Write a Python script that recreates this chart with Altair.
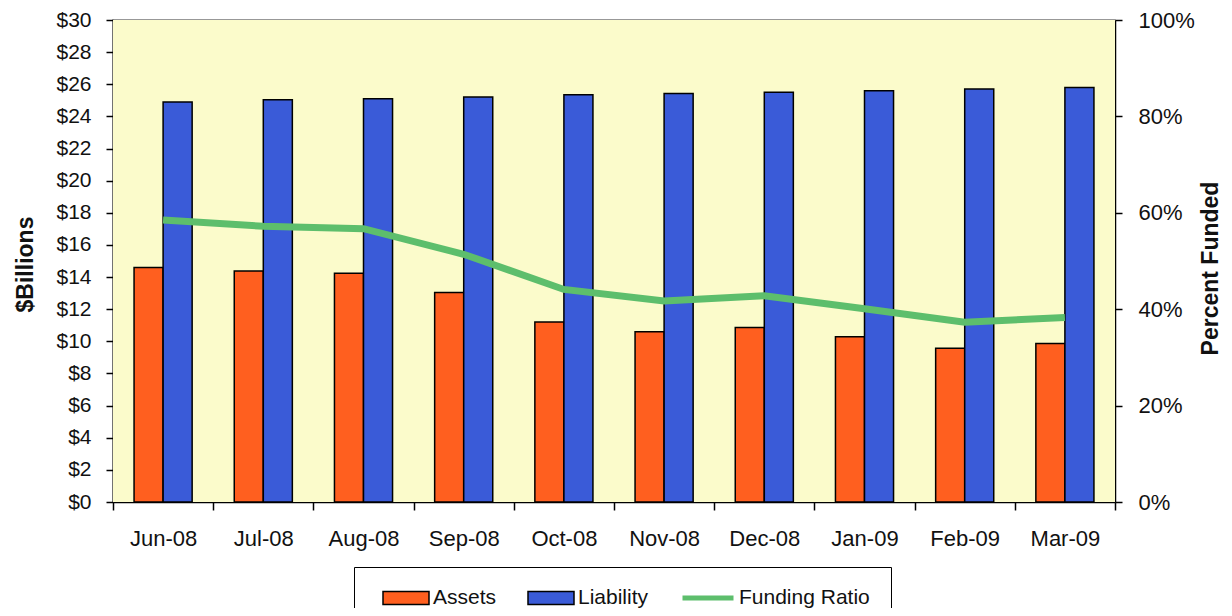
import altair as alt
import pandas as pd

months = ["Jun-08", "Jul-08", "Aug-08", "Sep-08", "Oct-08",
          "Nov-08", "Dec-08", "Jan-09", "Feb-09", "Mar-09"]
assets = [14.6, 14.37, 14.23, 13.04, 11.21, 10.6, 10.86, 10.29, 9.57, 9.86]
liability = [24.9, 25.03, 25.1, 25.2, 25.34, 25.43, 25.5, 25.6, 25.7, 25.8]
funding_ratio = [0.585, 0.572, 0.567, 0.514, 0.441, 0.417, 0.428, 0.401, 0.373, 0.383]

bar_series = ["Assets", "Liability"]
bar_colors = ["#FF5F1F", "#3A5BD8"]
line_series = ["Funding Ratio"]
line_color = "#5DBE6C"
y_ticks = list(range(0, 31, 2))
pct_ticks = [0, 0.2, 0.4, 0.6, 0.8, 1.0]

FONT = "Liberation Sans, Arial, sans-serif"

bars_df = pd.DataFrame(
    [{"month": m, "series": "Assets", "value": a} for m, a in zip(months, assets)]
    + [{"month": m, "series": "Liability", "value": l} for m, l in zip(months, liability)]
)
line_df = pd.DataFrame({"month": months, "ratio": funding_ratio,
                        "series": ["Funding Ratio"] * len(months)})
bg_df = pd.DataFrame({"bg": [1]})

background = alt.Chart(bg_df).mark_rect(color="#FBFBCB").encode(
    opacity=alt.value(1)
)

x_enc = alt.X(
    "month:N", sort=months,
    scale=alt.Scale(paddingInner=0, paddingOuter=0),
    axis=alt.Axis(title=None, labelAngle=0, tickBand="extent", tickSize=8,
                  labelPadding=18, labelFontSize=22, labelFont=FONT,
                  labelColor="#111", domainColor="black", tickColor="black",
                  domainWidth=1.5, tickWidth=1.5, grid=False),
)

rect_path = "M-1,-0.28H1V0.28H-1Z"

bars = alt.Chart(bars_df).mark_bar(stroke="black", strokeWidth=1.5).encode(
    x=x_enc,
    xOffset=alt.XOffset("series:N", sort=bar_series,
                        scale=alt.Scale(paddingInner=0, paddingOuter=0.725)),
    y=alt.Y("value:Q", scale=alt.Scale(domain=[0, 30], nice=False),
            axis=alt.Axis(values=y_ticks, labelExpr="'$' + datum.value",
                          tickSize=7, labelPadding=15, labelFontSize=21,
                          labelFont=FONT, labelColor="#111",
                          title="$Billions", titleFont=FONT, titleFontSize=23,
                          titleFontWeight="bold", titleColor="#111",
                          titleAngle=270, titleX=-88, titleY=244,
                          titleAlign="center", titleBaseline="middle",
                          grid=False, domainColor="black", tickColor="black",
                          domainWidth=1.5, tickWidth=1.5)),
    fill=alt.Fill(
        "series:N", scale=alt.Scale(domain=bar_series, range=bar_colors),
        title=None,
        legend=alt.Legend(orient="none", legendX=241, legendY=551,
                          direction="horizontal", columns=2,
                          symbolType=rect_path, symbolSize=2116,
                          symbolStrokeColor="black", symbolStrokeWidth=1.5,
                          symbolOpacity=1, symbolOffset=25, labelOffset=3,
                          labelFontSize=21, labelFont=FONT, labelColor="#111",
                          columnPadding=5, padding=3, labelLimit=600),
    ),
)

line = alt.Chart(line_df).mark_line(strokeWidth=7).encode(
    x=alt.X("month:N", sort=months),
    y=alt.Y("ratio:Q", scale=alt.Scale(domain=[0, 1], nice=False),
            axis=alt.Axis(orient="right", values=pct_ticks, format=".0%",
                          tickSize=7, labelPadding=16, labelFontSize=22,
                          labelFont=FONT, labelColor="#111",
                          title="Percent Funded", titleFont=FONT,
                          titleFontSize=23, titleFontWeight="bold",
                          titleColor="#111", titleAngle=270, titleX=95,
                          titleY=248, titleAlign="center",
                          titleBaseline="middle", grid=False,
                          domainColor="black", tickColor="black",
                          domainWidth=1.5, tickWidth=1.5)),
    stroke=alt.Stroke(
        "series:N", scale=alt.Scale(domain=line_series, range=[line_color]),
        title=".",
        legend=alt.Legend(orient="none", legendX=241, legendY=547,
                          symbolType="stroke", symbolSize=2601,
                          symbolStrokeWidth=5, symbolOpacity=1,
                          symbolOffset=323, labelOffset=3,
                          labelFontSize=21, labelFont=FONT,
                          labelColor="#111", padding=3, labelLimit=600,
                          titleOrient="right", titleColor="white",
                          titleFontSize=21, titlePadding=12,
                          strokeColor="black"),
    ),
)

chart = alt.layer(background, bars, line).resolve_scale(
    y="independent"
).properties(
    width=1002, height=482,
    autosize=alt.AutoSizeParams(type="none"),
    padding={"left": 105, "top": 12, "right": 109, "bottom": 106},
    background="white",
).configure_view(
    stroke="#777", strokeWidth=1.5
)

chart.save("out.html", embed_options={"renderer": "svg", "actions": False})
